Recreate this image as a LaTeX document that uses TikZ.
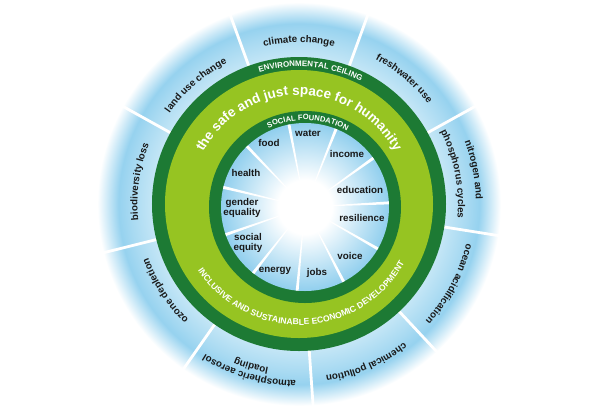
\documentclass[tikz,border=0pt]{standalone}
\usepackage{fontspec}
\setmainfont{Liberation Sans}
\usetikzlibrary{decorations.text}
\definecolor{ringdark}{RGB}{29,122,52}
\definecolor{ringlight}{RGB}{150,196,34}
\definecolor{skynear}{RGB}{196,230,246}
\definecolor{skyfar}{RGB}{150,210,239}
\definecolor{skyinner}{RGB}{145,207,238}
\definecolor{labeltext}{RGB}{25,25,25}
% radii: 25bp = 205pt ; 147pt = 17.9bp ; 185pt = 22.6bp
\pgfdeclareradialshading{outerglow}{\pgfpoint{0bp}{0bp}}{%
 color(0bp)=(skynear); color(17.9bp)=(skynear); color(20.5bp)=(skyfar!60!skynear); color(22bp)=(skyfar); color(24.6bp)=(white); color(50bp)=(white)}
\pgfdeclareradialshading{innerglow}{\pgfpoint{0bp}{0bp}}{%
 color(0bp)=(white); color(8bp)=(white); color(25bp)=(skyinner); color(50bp)=(skyinner)}
\newcommand\outerfont{\fontsize{9.8}{11}\selectfont\bfseries\color{labeltext}}
\newcommand\capsfont{\fontsize{8}{9}\selectfont\bfseries\color{white}}
\newcommand\smallcapsfont{\fontsize{7.6}{9}\selectfont\bfseries\color{white}}
\newcommand\bigringfont{\fontsize{13.5}{15}\selectfont\bfseries\color{white}}
\newcommand\devfont{\fontsize{8.6}{11}\selectfont\bfseries\color{white}}
\newcommand\cwlabel[3]{% radius, centre angle, text (clockwise)
  \path[decorate,decoration={text along path,text align=center,text={|\outerfont|#3}}]
    ({#2+30}:#1) arc[start angle={#2+30},delta angle=-60,radius=#1];}
\begin{document}
\begin{tikzpicture}[x=1pt,y=1pt,
  inlabel/.style={font=\fontsize{9.8}{10}\selectfont\bfseries, text=labeltext, align=center, inner sep=0pt}]
\useasboundingbox (-299,-204) rectangle (313,204);
\fill[white] (-299,-204) rectangle (313,204);
% outer blue glow with planetary boundary spokes
\shade[shading=outerglow] (0,0) circle (205);
\foreach \a in {29,70,110,151,194,235,274,313,351}
  \draw[white,line width=2.8pt] (\a:146) -- (\a:206);
% rings
\fill[ringdark] (0,0) circle (147);
\fill[ringlight] (0,0) circle (134);
\begin{scope}[shift={(6,-3)}]
  \fill[ringdark] (0,0) circle (96);
  \shade[shading=innerglow] (0,0) circle (84);
  \foreach \k in {0,...,10}
    \fill[white] (0,0) -- ({101-32.727*\k-1}:84) -- ({101-32.727*\k+1}:84) -- cycle;
  \path[decorate,decoration={text along path,text align=center,text={|\smallcapsfont|SOCIAL FOUNDATION}}]
    (148:87) arc[start angle=148,delta angle=-120,radius=87];
\end{scope}
% ring texts
\path[decorate,decoration={text along path,text align=center,text={|\capsfont|ENVIRONMENTAL CEILING}}]
  (135:137.5) arc[start angle=135,delta angle=-100,radius=137.5];
\path[decorate,decoration={text along path,text align=center,text={|\bigringfont|the safe and just space for humanity}}]
  (178:109) arc[start angle=178,delta angle=-176,radius=109];
\path[decorate,decoration={text along path,text align=center,text={|\devfont|INCLUSIVE AND SUSTAINABLE ECONOMIC DEVELOPMENT}}]
  (182:121) arc[start angle=182,delta angle=180,radius=121];
% planetary boundaries
\cwlabel{161.5}{90}{climate change}
\cwlabel{163.5}{50}{freshwater use}
\cwlabel{177}{11}{nitrogen and}
\cwlabel{159}{11}{phosphorus cycles}
\cwlabel{172}{332}{ocean acidification}
\cwlabel{174}{293}{chemical pollution}
\cwlabel{177}{253.5}{atmospheric aerosol}
\cwlabel{166.5}{253.5}{loading}
\cwlabel{160}{213}{ozone depletion}
\cwlabel{161.5}{172}{biodiversity loss}
\cwlabel{158}{131}{land use change}
% social foundation
\node[inlabel] (water) at (9,71) {water};
\node[inlabel] (food) at (-30,61) {food};
\node[inlabel] (income) at (48,50) {income};
\node[inlabel] (health) at (-53,31) {health};
\node[inlabel] (education) at (61,14) {education};
\node[inlabel] (gender) at (-57,-4) {gender\\equality};
\node[inlabel] (resilience) at (63,-14) {resilience};
\node[inlabel] (equity) at (-51,-39) {social\\equity};
\node[inlabel] (voice) at (51,-52) {voice};
\node[inlabel] (energy) at (-24,-67) {energy};
\node[inlabel] (jobs) at (18,-69) {jobs};
\end{tikzpicture}
\end{document}
